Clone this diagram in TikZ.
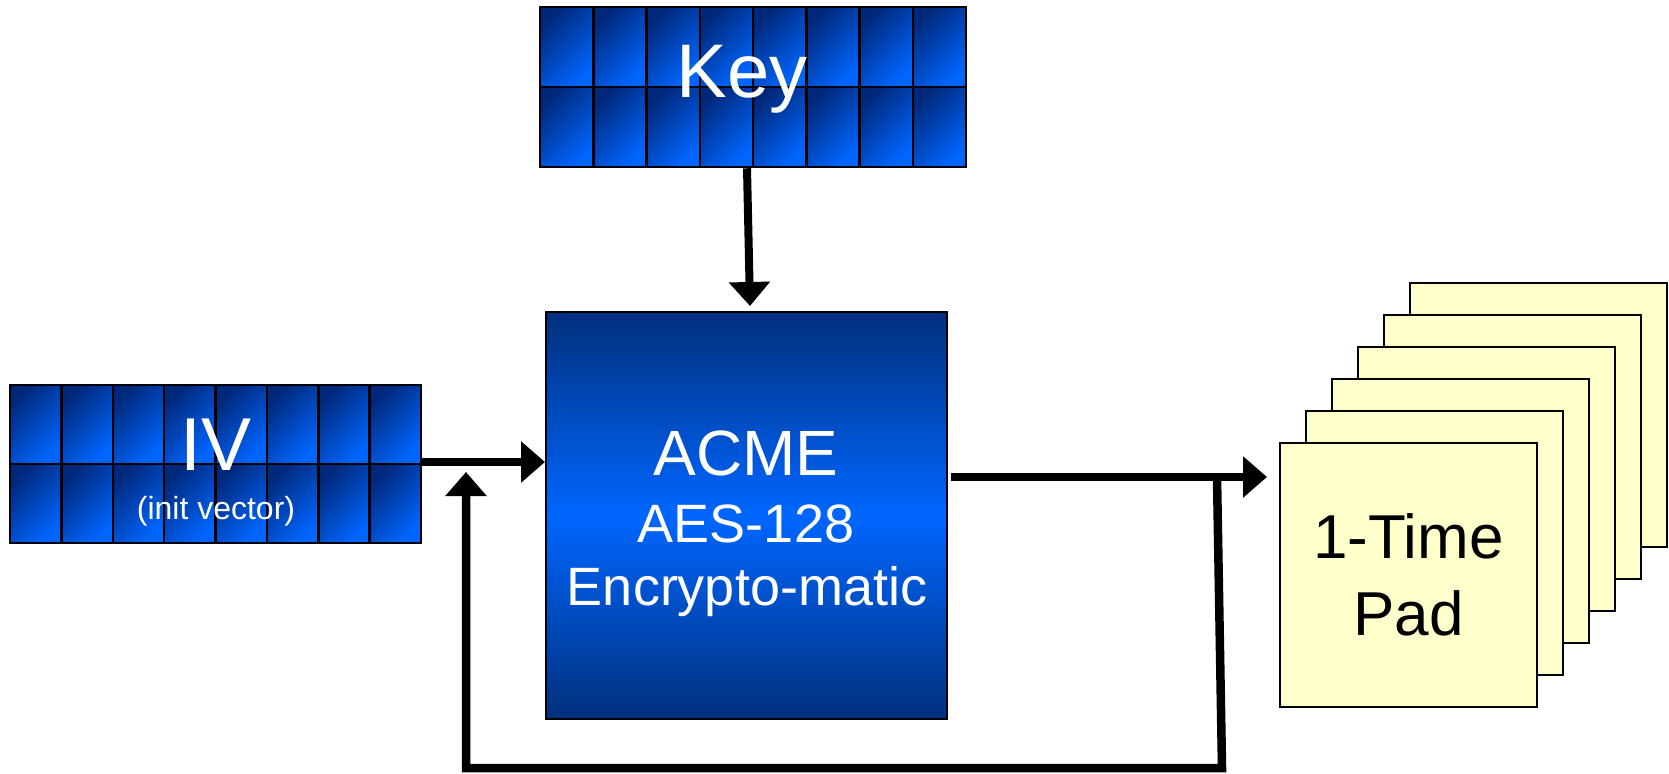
\documentclass[tikz,border=0pt]{standalone}
\usepackage{fontspec}
\setmainfont{Liberation Sans}
\usetikzlibrary{arrows.meta}

\definecolor{celldark}{RGB}{0,40,122}
\definecolor{cellblue}{RGB}{0,102,255}
\definecolor{boxdark}{RGB}{0,48,125}
\definecolor{padyellow}{RGB}{255,255,204}

\begin{document}
\begin{tikzpicture}[x = 1pt, y = -1pt, line width = 2pt,
                    cell/.style = {draw, line width = 2.5pt, top color = celldark, bottom color = cellblue, shading angle = 45},
                    frame/.style = {draw, line width = 2.5pt, inner sep = 0pt},
                    cipher/.style = {draw, line width = 2pt, inner sep = 0pt, top color = boxdark, bottom color = boxdark, middle color = cellblue,
                                     minimum width = 401pt, minimum height = 407pt},
                    pad/.style = {draw, fill = padyellow, line width = 2pt, minimum width = 257pt, minimum height = 264pt, inner sep = 0pt},
                    wtext/.style = {text = white, anchor = base, inner sep = 0pt},
                    flow/.style = {line width = 8pt, -{Triangle[length = 24pt, width = 40pt]}}]
      \useasboundingbox (0, 0) rectangle (1669, 773);

      % key and iv blocks
      \foreach \c in {0,...,7}
        \foreach \r in {0,1}{
          \draw [cell] (540 + 53.25*\c, 7 + 80*\r) rectangle ++(53.25, 80);
          \draw [cell] (10 + 51.375*\c, 385 + 79*\r) rectangle ++(51.375, 79);
        }
      \node [frame, minimum width = 426pt, minimum height = 160pt] (key) at (753, 87){};
      \node [frame, minimum width = 411pt, minimum height = 158pt] (iv) at (215.5, 464){};
      \node [wtext, font = \fontsize{76pt}{80pt}\selectfont] (keylabel) at (742, 98){Key};
      \node [wtext, font = \fontsize{75pt}{80pt}\selectfont] (ivlabel) at (216, 470){IV};
      \node [wtext, font = \fontsize{32pt}{36pt}\selectfont] (ivnote) at (216, 519){(init vector)};

      % cipher box
      \node [cipher] (acme) at (746.5, 515.5){};
      \node [wtext, font = \fontsize{64pt}{68pt}\selectfont] (acmename) at (746, 475){ACME};
      \node [wtext, font = \fontsize{54pt}{58pt}\selectfont] (acmeaes) at (746, 542){AES-128};
      \node [wtext, font = \fontsize{54pt}{58pt}\selectfont] (acmetag) at (747, 605){Encrypto-matic};

      % pads
      \foreach \i in {5,4,3,2,1}
        \node [pad] (pad\i) at (1408.5 + 26*\i, 575 - 32*\i){};
      \node [pad, align = center, font = \fontsize{62pt}{77pt}\selectfont] (pad0) at (1408.5, 575){1-Time\\Pad};

      % arrows
      \coordinate (ivout) at ([yshift = 2pt]iv.east);
      \coordinate (acmeout) at ([xshift = 3pt, yshift = 38.5pt]acme.east);
      \coordinate (tap) at (1217, 477);
      \coordinate (loopr) at (1222, 768);
      \coordinate (loopl) at (466, 768);
      \coordinate (ivback) at (466, 472);
      \draw [flow] ([xshift = -6pt]key.south) -- ([xshift = 3.5pt, yshift = 5pt]acme.north);
      \draw [flow] (ivout) -- (ivout -| acme.west);
      \draw [flow, shorten > = 12pt] (acmeout) -- (acmeout -| pad0.west);
      \draw [flow, line width = 8.5pt] (tap) -- (loopr) -- (loopl) -- (ivback);
    \end{tikzpicture}
\end{document}
